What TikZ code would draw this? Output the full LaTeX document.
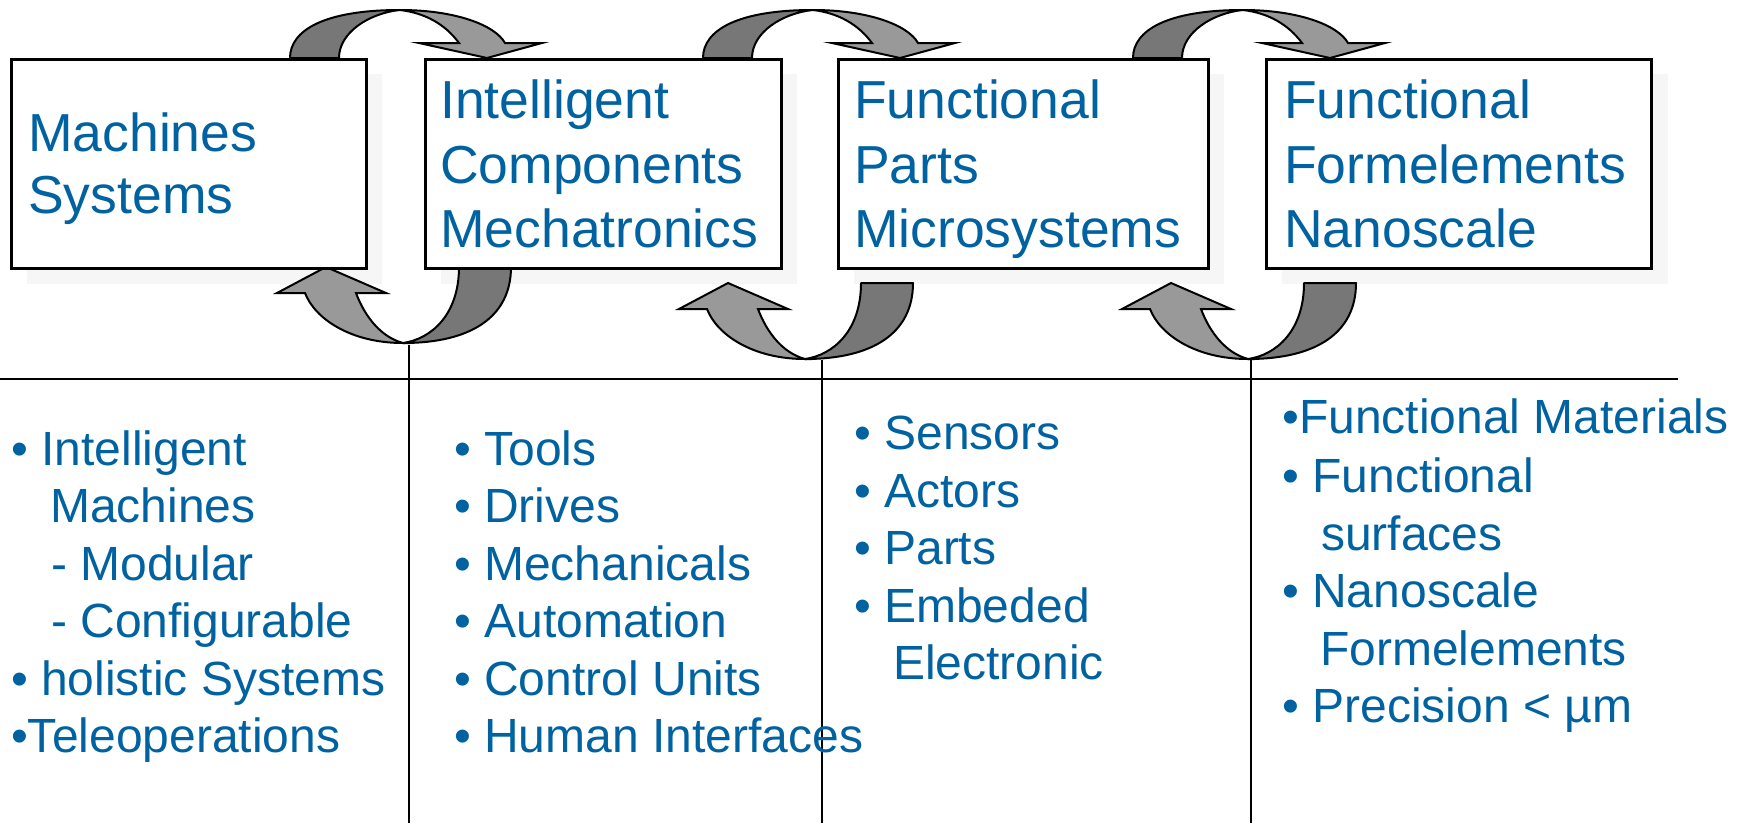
\documentclass[tikz,border=0pt]{standalone}
\usepackage{fontspec}
\setmainfont{Liberation Sans}
\definecolor{txtblue}{RGB}{0,98,160}
\definecolor{arrdark}{RGB}{119,119,119}
\definecolor{arrlight}{RGB}{153,153,153}
\definecolor{shadowgray}{RGB}{246,246,246}
\newcommand\toparr[1]{%
 \path[arrd] ({#1-110},58) .. controls ({#1-110},30) and ({#1-75},10) .. (#1,10)
   .. controls ({#1-30},13) and ({#1-61},32) .. ({#1-61},58) -- cycle;
 \path[arrl] (#1,10) .. controls ({#1+55},10) and ({#1+95},25) .. ({#1+105},43)
   -- ({#1+142},43) -- ({#1+87},58) -- ({#1+19},43) -- ({#1+59},43)
   .. controls ({#1+45},24) and ({#1+25},13) .. (#1,10) -- cycle;}
\newcommand\botarr[2]{%
 \path[arrd] ({#1+108},#2) .. controls ({#1+108},{#2+50}) and ({#1+68},{#2+76}) .. (#1,{#2+76})
   .. controls ({#1+28},{#2+72}) and ({#1+56},{#2+48}) .. ({#1+56},#2) -- cycle;
 \path[arrl] (#1,{#2+76}) .. controls ({#1-52},{#2+76}) and ({#1-88},{#2+52}) .. ({#1-98},{#2+26})
   -- ({#1-126},{#2+26}) -- ({#1-77},#2) -- ({#1-17},{#2+26}) -- ({#1-47},{#2+26})
   .. controls ({#1-38},{#2+50}) and ({#1-22},{#2+70}) .. (#1,{#2+76}) -- cycle;}
\begin{document}
\begin{tikzpicture}[x=1pt,y=-1pt,
  box/.style={draw=black,line width=3pt,fill=white,anchor=north west,inner sep=0,
              minimum height=209pt},
  shad/.style={fill=shadowgray},
  arrd/.style={draw=black,line width=2pt,fill=arrdark,line join=round},
  arrl/.style={draw=black,line width=2pt,fill=arrlight,line join=miter},
  hdr/.style={font=\fontsize{53.5}{62}\selectfont,text=txtblue,anchor=base west,inner sep=0},
  lst/.style={font=\fontsize{48}{57}\selectfont,text=txtblue,anchor=base west,inner sep=0},
  divider/.style={draw=black,line width=2.5pt}]
\useasboundingbox (0,0) rectangle (1748,823);
% shadows
\fill[shad] (27,74) rectangle (382,284);
\fill[shad] (441,74) rectangle (797,284);
\fill[shad] (854,74) rectangle (1224,284);
\fill[shad] (1282,74) rectangle (1668,284);
% curved arrows
\toparr{400}
\toparr{813}
\toparr{1243}
\botarr{403}{267}
\botarr{805}{283}
\botarr{1248}{283}
% boxes
\node[box,minimum width=355pt] (b1) at (10,58) {};
\node[box,minimum width=356pt] (b2) at (424,58) {};
\node[box,minimum width=370pt] (b3) at (837,58) {};
\node[box,minimum width=385pt] (b4) at (1265,58) {};
% box texts
\node[hdr] (h11) at (28,151) {Machines};
\node[hdr] (h12) at (28,213) {Systems};
\node[hdr] (h21) at (440,118) {Intelligent};
\node[hdr] (h22) at (440,183) {Components};
\node[hdr] (h23) at (440,247) {Mechatronics};
\node[hdr] (h31) at (854,118) {Functional};
\node[hdr] (h32) at (854,183) {Parts};
\node[hdr] (h33) at (854,247) {Microsystems};
\node[hdr] (h41) at (1284,118) {Functional};
\node[hdr] (h42) at (1284,183) {Formelements};
\node[hdr] (h43) at (1284,247) {Nanoscale};
% dividers
\coordinate (hl0) at (0,379);
\coordinate (hl1) at (1678,379);
\draw[divider] (hl0) -- (hl1);
\coordinate (v1a) at (409,345); \coordinate (v1b) at (409,823);
\coordinate (v2a) at (822,360); \coordinate (v2b) at (822,823);
\coordinate (v3a) at (1251,360); \coordinate (v3b) at (1251,823);
\draw[divider] (v1a) -- (v1b);
\draw[divider] (v2a) -- (v2b);
\draw[divider] (v3a) -- (v3b);
% column 1
\node[lst] (c11) at (11,465) {• Intelligent};
\node[lst] (c12) at (50,522) {Machines};
\node[lst] (c13) at (51,580) {- Modular};
\node[lst] (c14) at (51,637) {- Configurable};
\node[lst] (c15) at (11,695) {• holistic Systems};
\node[lst] (c16) at (11,752) {•Teleoperations};
% column 2
\node[lst] (c21) at (454,465) {• Tools};
\node[lst] (c22) at (454,522) {• Drives};
\node[lst] (c23) at (454,580) {• Mechanicals};
\node[lst] (c24) at (454,637) {• Automation};
\node[lst] (c25) at (454,695) {• Control Units};
\node[lst] (c26) at (454,752) {• Human Interfaces};
% column 3
\node[lst] (c31) at (854,449) {• Sensors};
\node[lst] (c32) at (854,507) {• Actors};
\node[lst] (c33) at (854,564) {• Parts};
\node[lst] (c34) at (854,622) {• Embeded};
\node[lst] (c35) at (893,679) {Electronic};
% column 4
\node[lst] (c41) at (1282,433) {•Functional Materials};
\node[lst] (c42) at (1282,492) {• Functional};
\node[lst] (c43) at (1321,550) {surfaces};
\node[lst] (c44) at (1282,607) {• Nanoscale};
\node[lst] (c45) at (1320,665) {Formelements};
\node[lst] (c46) at (1282,722) {• Precision < µm};
\end{tikzpicture}
\end{document}
